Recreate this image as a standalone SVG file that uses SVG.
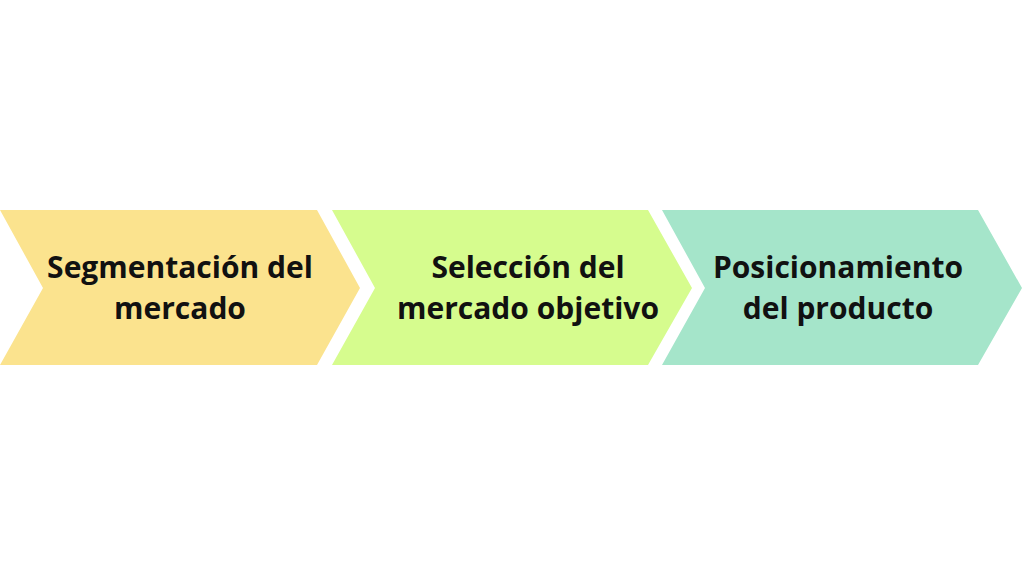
<svg xmlns="http://www.w3.org/2000/svg" width="1024" height="576" viewBox="0 0 1024 576">
<style>
.lbl{font-family:"Open Sans","Noto Sans","Liberation Sans",sans-serif;font-weight:700;font-size:30px;fill:#111;text-anchor:middle}
</style>
<rect width="1024" height="576" fill="#fff"/>
<g id="node1">
<polygon points="0,210 317,210 360,288 317,365 0,365 43,288" fill="#FBE38E"/>
<text class="lbl" x="180" y="278">Segmentación del</text>
<text class="lbl" x="180" y="319">mercado</text>
</g>
<g id="node2">
<polygon points="332,210 648,210 692,288 648,365 332,365 375,288" fill="#D6FC8E"/>
<text class="lbl" x="528" y="278">Selección del</text>
<text class="lbl" x="528" y="319">mercado objetivo</text>
</g>
<g id="node3">
<polygon points="662,210 978,210 1022,288 978,365 662,365 705,288" fill="#A5E5CA"/>
<text class="lbl" x="838" y="278">Posicionamiento</text>
<text class="lbl" x="838" y="319">del producto</text>
</g>
<g id="connectors"></g>
</svg>
